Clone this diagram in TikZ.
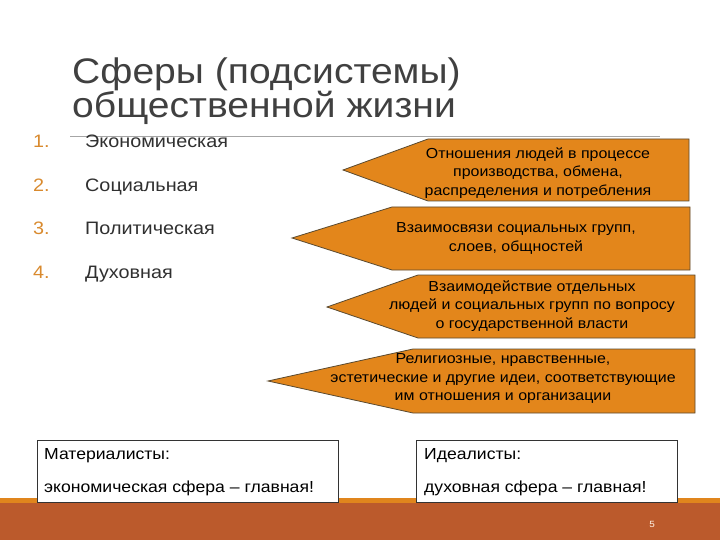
\documentclass[tikz,border=0pt]{standalone}
\usepackage{fontspec}
\setmainfont[FakeStretch=1.1]{Liberation Sans}
\definecolor{arrfill}{HTML}{E3861B}
\definecolor{arrdraw}{HTML}{5A4A30}
\definecolor{rust}{HTML}{BB5A2C}
\definecolor{stripe}{HTML}{E0851D}
\definecolor{numcol}{HTML}{D98A2E}
\definecolor{titlecol}{HTML}{404040}
\definecolor{listcol}{HTML}{303030}
\tikzset{
  arrowshape/.style={fill=arrfill, draw=arrdraw, line width=0.8pt},
  arrtext/.style={font=\fontsize{14.5}{18.5}\selectfont, align=center, text=black, inner sep=0pt},
  listnum/.style={font=\fontsize{18}{20}\selectfont, text=numcol, anchor=base west, inner sep=0pt},
  listitem/.style={font=\fontsize{18}{20}\selectfont, text=listcol, anchor=base west, inner sep=0pt},
  titletext/.style={font=\fontsize{35.5}{36}\selectfont, text=titlecol, anchor=base west, inner sep=0pt},
  notebox/.style={draw=black!80, fill=white, line width=0.8pt},
  notetext/.style={font=\fontsize{16}{20}\selectfont, text=black, anchor=base west, inner sep=0pt}
}
\begin{document}
\begin{tikzpicture}[x=1pt,y=-1pt]
\useasboundingbox (0,0) rectangle (720,540);
\fill[white] (0,0) rectangle (720,540);
% footer
\fill[rust] (0,503) rectangle (720,540);
\fill[stripe] (0,498) rectangle (720,503);
\node[font=\fontsize{9}{10}\selectfont, text=white!90!orange, inner sep=0pt] (pg) at (652,524) {5};
% title
\node[titletext] (t1) at (72,84) {Сферы (подсистемы)};
\node[titletext] (t2) at (72,118) {общественной жизни};
\draw[gray!70, line width=0.8pt] (70,136.5) -- (660,136.5);
% list
\node[listnum] (n1) at (33,148) {1.};
\node[listnum] (n2) at (33,192) {2.};
\node[listnum] (n3) at (33,235) {3.};
\node[listnum] (n4) at (33,278) {4.};
\node[listitem] (l1) at (85,148) {Экономическая};
\node[listitem] (l2) at (85,192) {Социальная};
\node[listitem] (l3) at (85,235) {Политическая};
\node[listitem] (l4) at (85,278) {Духовная};
% arrows
\draw[arrowshape] (343,170) -- (428,139) -- (689,139) -- (689,201) -- (428,201) -- cycle;
\draw[arrowshape] (292,238) -- (392,207) -- (690,207) -- (690,270) -- (392,270) -- cycle;
\draw[arrowshape] (327,307) -- (418,275) -- (695,275) -- (695,338) -- (418,338) -- cycle;
\draw[arrowshape] (268,381) -- (413,349) -- (695,349) -- (695,413) -- (413,413) -- cycle;
\node[arrtext] (a1) at (538,173) {Отношения людей в процессе\\производства, обмена,\\распределения и потребления};
\node[arrtext] (a2) at (516,238.5) {Взаимосвязи социальных групп,\\слоев, общностей};
\node[arrtext] (a3) at (532,306) {Взаимодействие отдельных\\людей и социальных групп по вопросу\\о государственной власти};
\node[arrtext] (a4) at (503,379) {Религиозные, нравственные,\\эстетические и другие идеи, соответствующие\\им отношения и организации};
% bottom boxes
\draw[notebox] (37,440) rectangle (338,502);
\draw[notebox] (416,440) rectangle (677,502);
\node[notetext] (m1) at (44,459) {Материалисты:};
\node[notetext] (m2) at (44,492) {экономическая сфера – главная!};
\node[notetext] (i1) at (424,459) {Идеалисты:};
\node[notetext] (i2) at (424,492) {духовная сфера – главная!};
\end{tikzpicture}
\end{document}
